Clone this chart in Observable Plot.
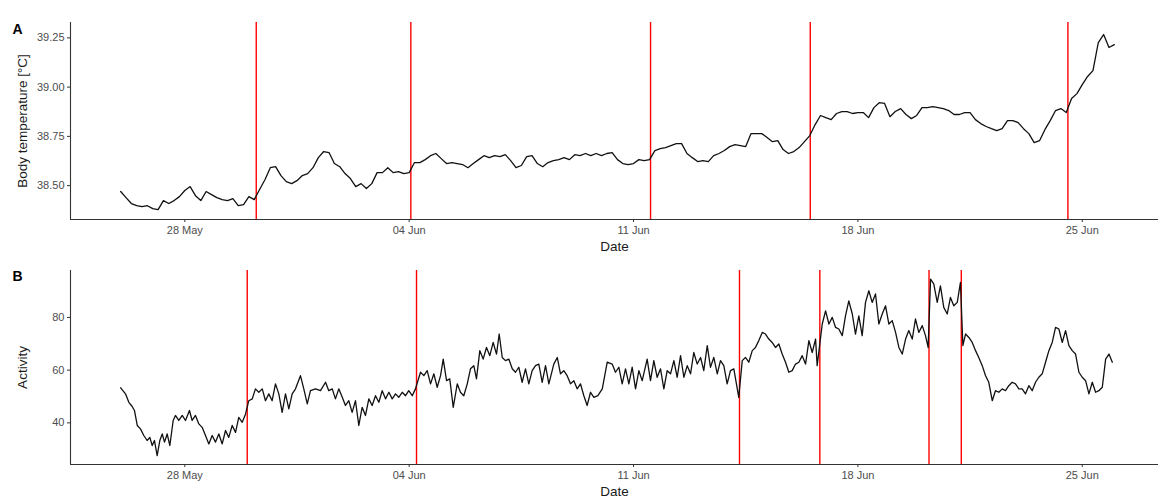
<!DOCTYPE html>
<html>
<head>
<meta charset="utf-8">
<script src="https://cdn.jsdelivr.net/npm/d3@7"></script>
<script src="https://cdn.jsdelivr.net/npm/@observablehq/plot@0.6"></script>
<style>
  body { margin: 0; background: #fff; font-family: "Liberation Sans", Arial, sans-serif; }
  #chart { width: 1158px; }
  #chart svg { display: block; }
</style>
</head>
<body>
<div id="chart"></div>
<script>
// Logger recording starts at midnight on 26 May
const seriesStart = Date.UTC(2019, 4, 26);

// Body temperature (°C), one reading every 4 hours
const tempStepHours = 4;
const tempValues = [
  38.470, 38.439, 38.409, 38.398, 38.393, 38.398, 38.383, 38.378, 38.424, 38.409,
  38.424, 38.444, 38.475, 38.495, 38.449, 38.424, 38.470, 38.454, 38.439, 38.429,
  38.424, 38.434, 38.398, 38.403, 38.444, 38.429, 38.480, 38.530, 38.591, 38.596,
  38.551, 38.520, 38.510, 38.525, 38.551, 38.561, 38.591, 38.642, 38.673, 38.668,
  38.612, 38.596, 38.561, 38.536, 38.495, 38.510, 38.485, 38.510, 38.566, 38.566,
  38.591, 38.566, 38.571, 38.561, 38.566, 38.617, 38.617, 38.632, 38.652, 38.663,
  38.637, 38.612, 38.617, 38.612, 38.607, 38.591, 38.612, 38.632, 38.652, 38.642,
  38.652, 38.647, 38.657, 38.627, 38.591, 38.602, 38.647, 38.652, 38.612, 38.596,
  38.617, 38.627, 38.632, 38.642, 38.632, 38.657, 38.652, 38.663, 38.652, 38.663,
  38.652, 38.663, 38.668, 38.632, 38.612, 38.607, 38.612, 38.632, 38.627, 38.632,
  38.678, 38.688, 38.693, 38.703, 38.713, 38.713, 38.663, 38.642, 38.622, 38.627,
  38.622, 38.652, 38.663, 38.678, 38.698, 38.708, 38.703, 38.698, 38.764, 38.764,
  38.764, 38.744, 38.723, 38.728, 38.683, 38.663, 38.673, 38.693, 38.723, 38.754,
  38.810, 38.856, 38.845, 38.835, 38.866, 38.876, 38.876, 38.866, 38.871, 38.871,
  38.845, 38.896, 38.921, 38.917, 38.850, 38.876, 38.891, 38.861, 38.840, 38.856,
  38.896, 38.896, 38.901, 38.896, 38.891, 38.881, 38.861, 38.861, 38.871, 38.871,
  38.835, 38.815, 38.800, 38.789, 38.779, 38.789, 38.830, 38.830, 38.820, 38.789,
  38.764, 38.718, 38.728, 38.784, 38.830, 38.881, 38.891, 38.871, 38.942, 38.967,
  39.013, 39.054, 39.084, 39.226, 39.267, 39.201, 39.216
];

// Activity: hours since the start of recording, and the activity value at each
const actHours = [
  0.0, 3.6, 6.1, 8.6, 10.3, 12.4, 14.8, 17.3, 19.8, 21.8,
  23.6, 25.3, 27.3, 29.3, 31.1, 32.8, 34.8, 36.8, 39.3, 41.0,
  43.5, 46.1, 48.5, 51.5, 53.5, 56.0, 58.5, 61.0, 63.5, 66.0,
  68.5, 71.0, 73.5, 76.0, 78.5, 80.9, 83.5, 86.0, 88.4, 91.0,
  93.5, 95.9, 98.5, 100.9, 103.4, 106.0, 108.4, 110.9, 113.4, 115.9,
  118.4, 120.9, 123.4, 125.9, 128.4, 130.9, 134.6, 137.1, 139.7, 142.1,
  145.9, 149.6, 153.4, 155.8, 158.4, 160.8, 163.3, 165.9, 168.3, 170.8,
  173.3, 175.8, 178.3, 180.8, 183.3, 185.8, 188.3, 190.8, 193.3, 195.8,
  198.3, 200.8, 203.3, 205.8, 208.2, 210.8, 213.3, 215.7, 218.3, 220.7,
  224.5, 227.0, 229.5, 232.0, 234.5, 237.0, 239.5, 241.5, 244.0, 246.4,
  249.0, 252.0, 254.4, 256.9, 259.5, 261.9, 264.4, 266.4, 268.9, 271.4,
  273.9, 276.4, 278.9, 281.4, 283.4, 285.7, 288.1, 290.6, 293.2, 295.6,
  298.1, 300.6, 303.1, 305.6, 308.1, 310.6, 313.1, 315.6, 318.1, 320.6,
  324.3, 326.9, 329.3, 331.8, 334.3, 336.8, 339.3, 341.8, 344.3, 346.8,
  349.3, 351.8, 354.3, 357.3, 360.6, 364.3, 368.0, 370.5, 373.0, 375.5,
  378.0, 380.5, 383.0, 385.5, 388.0, 390.5, 394.2, 396.7, 399.2, 401.7,
  404.2, 406.7, 409.2, 411.7, 414.2, 416.7, 419.2, 421.7, 424.2, 426.7,
  429.1, 431.7, 434.2, 436.6, 439.2, 441.6, 444.1, 446.7, 449.1, 451.6,
  454.1, 456.6, 459.1, 462.8, 465.4, 467.8, 470.3, 472.9, 475.3, 477.8,
  480.4, 482.8, 485.3, 487.8, 490.3, 492.8, 495.3, 497.8, 500.3, 502.8,
  505.3, 507.8, 510.3, 512.8, 515.3, 517.8, 520.3, 521.5, 525.3, 527.8,
  530.3, 532.8, 535.3, 537.7, 540.3, 542.7, 545.2, 547.8, 550.2, 552.7,
  555.2, 557.7, 560.2, 562.7, 565.2, 567.7, 570.2, 572.7, 575.2, 577.7,
  580.2, 582.7, 585.2, 587.7, 590.1, 592.7, 595.1, 597.6, 600.2, 602.6,
  604.6, 606.4, 608.8, 611.4, 613.8, 616.3, 618.9, 621.3, 623.8, 626.4,
  628.8, 630.6, 632.6, 635.1, 637.6, 640.1, 642.5, 645.1, 647.6, 650.0,
  652.6, 655.0, 657.5, 660.1, 662.5, 665.0, 667.5, 670.0, 672.5, 675.0,
  677.5, 680.0, 682.5, 685.0, 687.5, 690.0, 692.5, 695.0, 697.5, 700.0,
  702.5, 705.0, 707.5, 710.0, 712.5, 715.0, 717.5, 720.0, 722.5, 725.0,
  727.5, 730.0, 732.4, 735.0, 737.5, 740.0, 742.5
];
const actValues = [
  53.3, 51.0, 47.8, 46.2, 44.7, 39.0, 37.7, 35.2, 33.3, 34.5,
  31.4, 33.3, 27.6, 33.3, 35.8, 32.7, 35.8, 31.4, 40.9, 42.8,
  40.9, 42.8, 40.9, 44.7, 40.9, 42.8, 39.6, 38.3, 35.2, 32.0,
  35.2, 32.7, 35.8, 32.0, 37.1, 34.5, 39.0, 36.4, 42.1, 40.2,
  43.4, 48.4, 49.1, 52.9, 51.6, 52.9, 48.4, 51.0, 48.4, 54.8,
  51.0, 44.0, 51.0, 45.3, 51.0, 52.9, 57.9, 52.9, 47.2, 52.2,
  52.9, 52.2, 55.4, 52.2, 52.9, 49.1, 52.9, 49.7, 46.6, 48.4,
  44.0, 48.4, 39.0, 45.9, 42.8, 49.1, 46.6, 50.3, 47.8, 52.2,
  49.1, 51.6, 49.1, 51.0, 49.7, 51.6, 50.3, 52.2, 50.3, 52.9,
  59.2, 57.9, 59.8, 54.8, 58.6, 53.5, 57.9, 64.2, 56.0, 56.7,
  45.9, 54.8, 51.6, 50.3, 54.8, 60.5, 61.7, 56.7, 67.4, 64.2,
  68.6, 65.5, 70.5, 66.1, 73.7, 64.8, 63.6, 64.2, 60.5, 59.2,
  61.1, 55.4, 60.5, 54.8, 59.8, 61.7, 62.3, 55.4, 61.7, 54.8,
  62.3, 64.8, 58.6, 59.8, 57.9, 54.8, 56.0, 52.9, 54.8, 50.3,
  46.6, 51.6, 49.7, 50.3, 52.9, 63.0, 62.3, 59.2, 61.1, 54.8,
  60.5, 54.8, 61.1, 52.9, 59.8, 56.0, 64.2, 56.0, 63.6, 57.3,
  60.5, 52.9, 59.8, 58.6, 63.6, 57.3, 65.5, 57.3, 61.7, 58.6,
  66.7, 62.3, 64.8, 59.8, 69.3, 61.1, 64.8, 58.6, 63.6, 61.7,
  54.8, 59.8, 60.5, 49.7, 63.6, 64.8, 63.0, 67.4, 68.6, 71.2,
  74.3, 73.7, 71.8, 70.5, 68.6, 69.9, 66.1, 63.0, 59.2, 59.8,
  62.3, 63.0, 65.5, 62.3, 71.2, 66.7, 71.8, 61.7, 77.5, 82.5,
  77.5, 80.0, 76.2, 75.6, 73.1, 80.6, 86.3, 81.3, 73.7, 80.6,
  73.1, 85.7, 90.1, 85.7, 88.9, 77.5, 81.3, 84.4, 77.5, 78.8,
  74.3, 68.6, 66.1, 71.8, 75.0, 71.8, 79.4, 74.3, 76.9, 73.1,
  68.6, 94.5, 92.7, 85.7, 92.0, 83.8, 81.3, 87.6, 84.4, 85.7,
  93.3, 69.3, 73.7, 72.4, 70.5, 67.4, 64.8, 61.7, 57.9, 55.4,
  48.4, 52.2, 51.6, 52.9, 52.2, 54.1, 55.4, 54.8, 52.9, 52.9,
  51.0, 54.1, 52.2, 55.4, 57.3, 58.6, 63.0, 67.4, 70.5, 76.2,
  75.6, 70.5, 75.0, 69.3, 67.4, 66.1, 59.2, 57.3, 56.0, 51.0,
  55.4, 51.6, 52.2, 53.5, 64.2, 66.1, 63.0
];

// Event times marked with vertical red lines
const tempEvents = ["2019-05-30T05:30Z", "2019-06-04T01:15Z", "2019-06-11T12:45Z", "2019-06-16T12:20Z", "2019-06-24T13:15Z"];
const actEvents = ["2019-05-29T22:45Z", "2019-06-04T05:30Z", "2019-06-14T07:20Z", "2019-06-16T19:30Z", "2019-06-20T05:15Z", "2019-06-21T05:25Z"];

// Axis ticks and labels
const dateTicks = ["2019-05-28", "2019-06-04", "2019-06-11", "2019-06-18", "2019-06-25"];
const tempTicks = [38.50, 38.75, 39.00, 39.25];
const actTicks = [40, 60, 80];
const xTitle = "Date";
const tempTitle = "Body temperature [°C]";
const actTitle = "Activity";

const hour = 3600e3;
const tempData = tempValues.map((v, i) => ({date: new Date(seriesStart + i * tempStepHours * hour), value: v}));
const actData = actHours.map((h, i) => ({date: new Date(seriesStart + h * hour), value: actValues[i]}));

const xDomain = [new Date("2019-05-24T10:25Z"), new Date("2019-06-27T09:05Z")];
const tickDates = dateTicks.map(d => new Date(d + "T00:00Z"));
const font = "'Liberation Sans', Arial, Helvetica, sans-serif";

function panel({data, events, yDomain, yTicks, yFormat, yTitle, tag, height, marginTop, marginBottom, tagDy}) {
  return Plot.plot({
    width: 1158,
    height,
    marginLeft: 70,
    marginRight: 0,
    marginTop,
    marginBottom,
    style: {fontFamily: font, fontSize: "11px", background: "transparent", overflow: "visible"},
    x: {type: "utc", domain: xDomain},
    y: {domain: yDomain},
    marks: [
      Plot.ruleX(events.map(d => new Date(d)), {stroke: "#ff0000", strokeWidth: 1.4}),
      Plot.lineY(data, {x: "date", y: "value", stroke: "#111111", strokeWidth: 1.3}),
      Plot.ruleY([yDomain[0]], {stroke: "#333333", strokeWidth: 1.1}),
      Plot.ruleX([xDomain[0]], {stroke: "#333333", strokeWidth: 1.1}),
      Plot.axisX({ticks: tickDates, tickFormat: d3.utcFormat("%d %b"), tickSize: 3, tickPadding: 4,
                  label: null, stroke: "#333333", fill: "#4d4d4d"}),
      Plot.axisY({ticks: yTicks, tickFormat: yFormat, tickSize: 3, tickPadding: 3,
                  label: null, stroke: "#333333", fill: "#4d4d4d"}),
      Plot.text([yTitle], {text: d => d, frameAnchor: "left", dx: -48, rotate: -90,
                  fontSize: 13.5, fill: "#1a1a1a", textAnchor: "middle", lineAnchor: "middle"}),
      Plot.text([xTitle], {text: d => d, frameAnchor: "bottom", dy: 27,
                  fontSize: 13.5, fill: "#1a1a1a", textAnchor: "middle", lineAnchor: "middle"}),
      Plot.text([tag], {text: d => d, frameAnchor: "top-left", dx: -58, dy: tagDy,
                  fontSize: 14, fontWeight: "bold", fill: "#000", textAnchor: "start", lineAnchor: "middle"})
    ]
  });
}

const chart = document.getElementById("chart");
chart.append(panel({
  data: tempData, events: tempEvents, yDomain: [38.328, 39.328], yTicks: tempTicks,
  yFormat: d3.format(".2f"), yTitle: tempTitle, tag: "A",
  height: 250, marginTop: 22, marginBottom: 31, tagDy: 7
}));
chart.append(panel({
  data: actData, events: actEvents, yDomain: [24.2, 97.8], yTicks: actTicks,
  yFormat: d3.format("d"), yTitle: actTitle, tag: "B",
  height: 248, marginTop: 20, marginBottom: 34, tagDy: 6
}));
</script>
</body>
</html>
